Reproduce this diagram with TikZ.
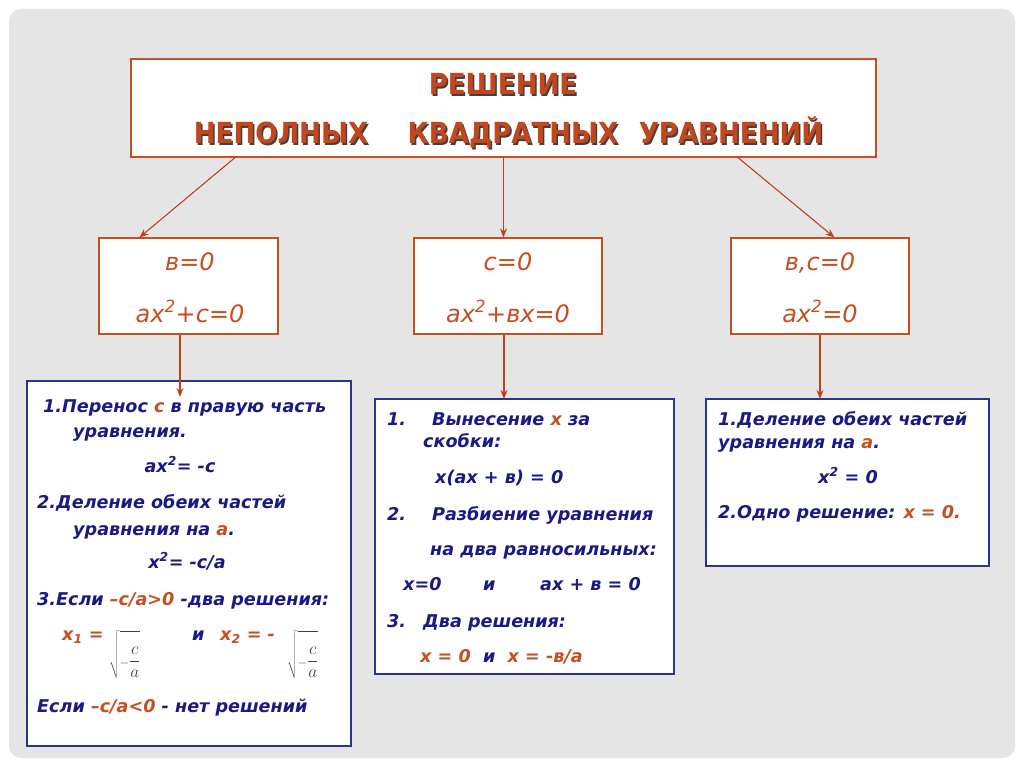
\documentclass[tikz,border=0pt]{standalone}
\usepackage{fontspec}
\setmainfont{DejaVu Sans}
\newfontfamily\titlefont{DejaVu Sans Condensed}[BoldFont={DejaVu Sans Condensed Bold}]
\usetikzlibrary{arrows.meta,calc}

\definecolor{titleorange}{RGB}{196,70,28}
\definecolor{boxorange}{RGB}{198,78,32}
\definecolor{linkorange}{RGB}{192,64,30}
\definecolor{boxblue}{RGB}{44,52,140}
\definecolor{navy}{RGB}{26,26,132}
\definecolor{bgframe}{RGB}{229,229,229}

\newcommand{\orn}[1]{\textcolor{boxorange}{#1}}
\newcommand{\rootca}{$\displaystyle\sqrt{\rule[-9pt]{0pt}{41pt}{\scriptstyle-}\frac{c}{a}}$}

\tikzset{
  headbox/.style={draw=boxorange, fill=white, line width=1.1pt, minimum width=745pt, minimum height=98pt, inner sep=0pt},
  casebox/.style={draw=boxorange, fill=white, line width=1.1pt, minimum height=96pt, inner sep=0pt},
  solbox/.style={draw=boxblue, fill=white, line width=1.1pt, inner sep=0pt},
  link/.style={->, draw=linkorange, line width=1.1pt},
  titleword/.style={font=\titlefont\bfseries\fontsize{29}{32}\selectfont, text=titleorange, inner sep=0pt, anchor=base},
  titleshade/.style={titleword, text=black!75},
  casetext/.style={font=\itshape\fontsize{24}{26}\selectfont, text=boxorange, anchor=base, inner sep=0pt},
  soltext/.style={font=\bfseries\itshape\fontsize{17.6}{20}\selectfont, text=navy, anchor=base west, inner sep=0pt},
  solmid/.style={soltext, anchor=base},
  rootnode/.style={text=black!75, inner sep=0pt, font=\LARGE, anchor=north west}
}

\begin{document}
\begin{tikzpicture}[x=1pt, y=-1pt, >={Stealth[length=9pt,width=7pt]}]
    % slide background
    \fill[white] (0,0) rectangle (1024,767);
    \fill[bgframe, rounded corners=12pt] (9,9) rectangle (1015,758);
    \useasboundingbox (0,0) rectangle (1024,767);

    % boxes
    \node[headbox] (head) at (503.5,108) {};
    \node[casebox, minimum width=179pt] (bzero) at (188.5,286) {};
    \node[casebox, minimum width=188pt] (czero) at (508,286) {};
    \node[casebox, minimum width=178pt] (bczero) at (820,286) {};

    \node[solbox, minimum width=324pt, minimum height=365pt] (lsol) at (189,563.5) {};
    \node[solbox, minimum width=299pt, minimum height=275pt] (msol) at (524.5,536.5) {};
    \node[solbox, minimum width=283pt, minimum height=167pt] (rsol) at (847.5,482.5) {};

    % title with shadow
    \foreach \w/\px/\py [count=\i] in {РЕШЕНИЕ/503/95, НЕПОЛНЫХ/281/144, КВАДРАТНЫХ/513/144, УРАВНЕНИЙ/731/144} {
        \node[titleshade] (ts\i) at (\px+1.5,\py+1.5) {\w};
        \node[titleword] (tw\i) at (\px,\py) {\w};
    }

    % cases
    \node[casetext] (bc1) at (190,270) {в=0};
    \node[casetext] (bc2) at (190,322) {ax\textsuperscript{2}+c=0};
    \node[casetext] (cc1) at (508,270) {c=0};
    \node[casetext] (cc2) at (508,322) {ax\textsuperscript{2}+вx=0};
    \node[casetext] (dc1) at (820,270) {в,c=0};
    \node[casetext] (dc2) at (820,322) {ax\textsuperscript{2}=0};

    % arrows
    \draw[link] ($(head.south west)+(104.6,0)$) -- ($(bzero.north west)+(41,0)$);
    \draw[link] (head.south) -- (head.south |- czero.north);
    \draw[link] ($(head.south west)+(607.5,0)$) -- ($(bczero.north west)+(104,0)$);

    \coordinate (tipL) at (180,397);
    \coordinate (tipM) at (504,399);
    \coordinate (tipR) at (820,399);
    \draw[link] (bzero.south -| tipL) -- (tipL);
    \draw[link] (czero.south -| tipM) -- (tipM);
    \draw[link] (bczero.south -| tipR) -- (tipR);

    % left solution
    \node[soltext] (l1) at (43,412) {1.Перенос \orn{c} в правую часть};
    \node[soltext] (l2) at (73,437) {уравнения.};
    \node[solmid] (l3) at (180,472) {ax\textsuperscript{2}= -c};
    \node[soltext] (l4) at (37,508) {2.Деление обеих частей};
    \node[soltext] (l5) at (73,535) {уравнения на \orn{a}.};
    \node[solmid] (l6) at (187,568) {x\textsuperscript{2}= -c/a};
    \node[soltext] (l7) at (37,605) {3.Если \orn{–c/a>0} -два решения:};
    \node[soltext, text=boxorange] (l8) at (62,640) {x\textsubscript{1} =};
    \node[rootnode] (r1) at (109,630) {\rootca};
    \node[soltext] (l9) at (192,640) {и};
    \node[soltext, text=boxorange] (l10) at (220,640) {x\textsubscript{2} = -};
    \node[rootnode] (r2) at (287,630) {\rootca};
    \node[soltext] (l11) at (37,712) {Если \orn{–c/a<0} - нет решений};

    % middle solution
    \node[soltext] (m1) at (387,425) {1.};
    \node[soltext] (m2) at (432,425) {Вынесение \orn{x} за};
    \node[soltext] (m3) at (423,447) {скобки:};
    \node[soltext] (m4) at (435,483) {x(ax + в) = 0};
    \node[soltext] (m5) at (387,520) {2.};
    \node[soltext] (m6) at (432,520) {Разбиение уравнения};
    \node[soltext] (m7) at (430,555) {на два равносильных:};
    \node[soltext] (m8) at (403,590) {x=0};
    \node[soltext] (m9) at (483,590) {и};
    \node[soltext] (m10) at (540,590) {ax + в = 0};
    \node[soltext] (m11) at (387,627) {3.};
    \node[soltext] (m12) at (423,627) {Два решения:};
    \node[soltext] (m13) at (420,662) {\orn{x = 0} \ и \ \orn{x = -в/a}};

    % right solution
    \node[soltext] (r3) at (718,425) {1.Деление обеих частей};
    \node[soltext] (r4) at (718,448) {уравнения на \orn{a}.};
    \node[solmid] (r5) at (848,483) {x\textsuperscript{2} = 0};
    \node[soltext] (r6) at (718,518) {2.Одно решение: \orn{x = 0.}};
\end{tikzpicture}
\end{document}
